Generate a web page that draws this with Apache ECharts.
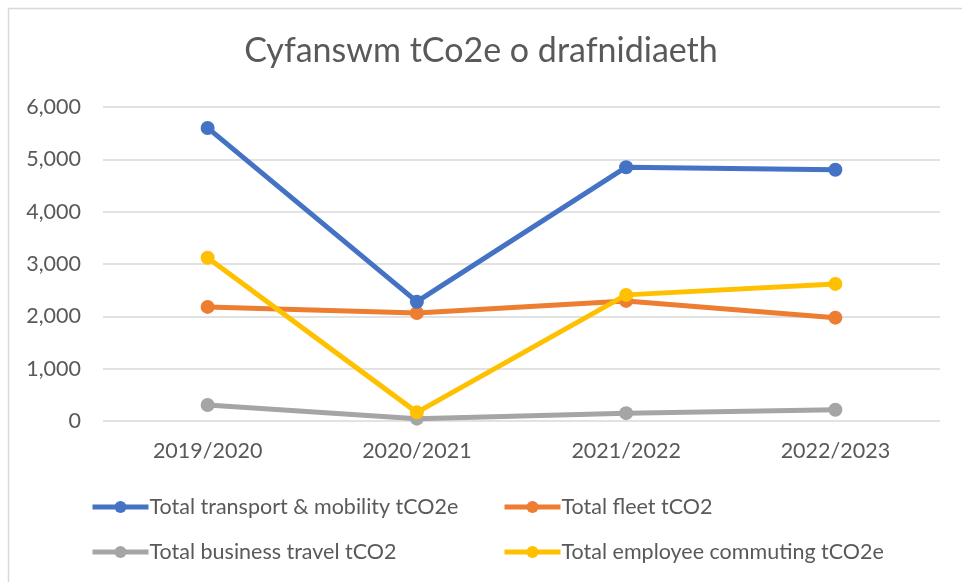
<!DOCTYPE html>
<html>
<head>
<meta charset="utf-8">
<script src="https://cdn.jsdelivr.net/npm/echarts@6/dist/echarts.min.js"></script>
<style>
  html, body { margin: 0; padding: 0; background: #fff; }
  #chart { width: 962px; height: 582px; }
</style>
</head>
<body>
<div id="chart"></div>
<script>
// data
const years = ['2019/2020', '2020/2021', '2021/2022', '2022/2023']
const transportMobility = [5600, 2280, 4850, 4800]
const fleet = [2180, 2065, 2295, 1975]
const businessTravel = [305, 45, 150, 215]
const employeeCommuting = [3120, 165, 2410, 2620]

const seriesNames = [
  'Total transport & mobility tCO2e',
  'Total fleet tCO2',
  'Total business travel tCO2',
  'Total employee commuting tCO2e'
]
const colours = ['#4472C4', '#ED7D31', '#A5A5A5', '#FFC000']
const values = [transportMobility, fleet, businessTravel, employeeCommuting]

const font = 'Lato'
const textColour = '#595959'

const chart = echarts.init(document.getElementById('chart'))

// one legend per item so each sits where the original puts it
const legendSpots = [
  {left: 85, top: 491},
  {left: 497, top: 491},
  {left: 85, top: 536},
  {left: 497, top: 536}
]

const option = {
  backgroundColor: '#fff',
  animation: false,
  title: {
    text: 'Cyfanswm tCo2e o drafnidiaeth',
    left: 'center',
    top: 29,
    textStyle: {
      fontFamily: font,
      fontSize: 34,
      fontWeight: 'normal',
      color: textColour
    }
  },
  graphic: [{
    type: 'rect',
    shape: {x: 8.5, y: 8.5, width: 1000, height: 1000},
    style: {fill: 'none', stroke: '#D9D9D9', lineWidth: 1.5},
    silent: true
  }],
  legend: legendSpots.map((spot, i) => ({
    data: [seriesNames[i]],
    left: spot.left,
    top: spot.top,
    itemWidth: 56,
    itemHeight: 15,
    lineStyle: {width: 5},
    textStyle: {fontFamily: font, fontSize: 21.5, color: textColour, padding: [0, 0, 0, -4]}
  })),
  grid: {
    left: 103,
    right: 22,
    top: 107,
    bottom: 161
  },
  xAxis: {
    type: 'category',
    data: years,
    boundaryGap: true,
    axisLine: {show: false},
    axisTick: {show: false},
    axisLabel: {
      fontFamily: font,
      fontSize: 21.5,
      color: textColour,
      margin: 19
    }
  },
  yAxis: {
    type: 'value',
    min: 0,
    max: 6000,
    interval: 1000,
    axisLine: {show: false},
    axisTick: {show: false},
    axisLabel: {
      fontFamily: font,
      fontSize: 21.5,
      color: textColour,
      margin: 22,
      formatter: v => v.toLocaleString('en-GB')
    },
    splitLine: {lineStyle: {color: '#D9D9D9', width: 1.5}}
  },
  series: seriesNames.map((name, i) => ({
    name: name,
    type: 'line',
    data: values[i],
    symbol: 'circle',
    symbolSize: 14,
    color: colours[i],
    lineStyle: {width: 5, color: colours[i]},
    itemStyle: {color: colours[i]},
    z: i === 3 ? 5 : 2 + (i === 0 ? 1 : 0)
  }))
}

chart.setOption(option)
</script>
</body>
</html>
